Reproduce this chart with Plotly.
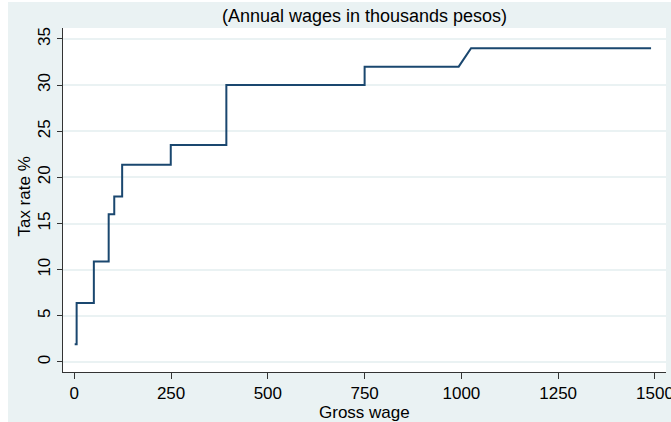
import plotly.graph_objects as go

# Data: gross annual wage (thousands of pesos) and tax rate (%)
wage = [1, 6, 6, 50.5, 50.5, 88.8, 88.8, 103.2, 103.2, 123.6, 123.6,
        249.2, 249.2, 392.8, 392.8, 750, 750, 993, 1025, 1490]
rate = [1.92, 1.92, 6.4, 6.4, 10.88, 10.88, 16, 16, 17.92, 17.92, 21.36,
        21.36, 23.52, 23.52, 30, 30, 32, 32, 34, 34]

x_ticks = [0, 250, 500, 750, 1000, 1250, 1500]
y_ticks = [0, 5, 10, 15, 20, 25, 30, 35]

BG = "#EAF2F3"
LINE = "#1A476F"
AXC = "#333333"
FONT = "Liberation Sans, Arial, sans-serif"

fig = go.Figure()
fig.add_trace(go.Scatter(x=wage, y=rate, mode="lines",
                         line=dict(color=LINE, width=2), showlegend=False))

# page has body margin: 8px left, 2px top
W, H = 663, 420
ml, mr, mt, mb = 55, 5, 26, 50
pw, ph = W - ml - mr, H - mt - mb

fig.update_layout(
    width=W, height=H,
    margin=dict(l=ml, r=mr, t=mt, b=mb, autoexpand=False),
    paper_bgcolor=BG, plot_bgcolor="white",
    font=dict(family=FONT, size=17, color="#000000"),
    title=dict(text="(Annual wages in thousands pesos)", x=0.5, xref="paper",
               xanchor="center", y=1 - 14 / H, yref="container", yanchor="middle",
               font=dict(family=FONT, size=18, color="#000000")),
    xaxis=dict(range=[-29.2, 1528.6], tickvals=x_ticks, ticks="outside",
               ticklen=6, tickcolor=AXC, showline=True, linecolor=AXC,
               linewidth=1, showgrid=False, zeroline=False, automargin=False,
               ticklabeloverflow="allow", tickfont=dict(size=17)),
    yaxis=dict(range=[-1.09, 36.19], tickvals=y_ticks, ticks="outside",
               ticklen=5, tickcolor=AXC, showline=True, linecolor=AXC,
               linewidth=1, showgrid=True, gridcolor=BG, gridwidth=1.5,
               zeroline=False, tickangle=-90, automargin=False,
               tickfont=dict(size=17)),
    annotations=[
        dict(text="Gross wage", xref="paper", yref="paper", x=0.5,
             y=-(410 - (H - mb)) / ph, xanchor="center", yanchor="middle",
             showarrow=False, font=dict(family=FONT, size=17, color="#000000")),
        dict(text="Tax rate %", xref="paper", yref="paper", x=(17 - ml) / pw,
             y=0.51, xanchor="center", yanchor="middle", textangle=-90,
             showarrow=False, font=dict(family=FONT, size=17, color="#000000")),
    ],
)

fig.write_html("out.html",
               post_script="document.body.style.margin='2px 0 0 8px';")
